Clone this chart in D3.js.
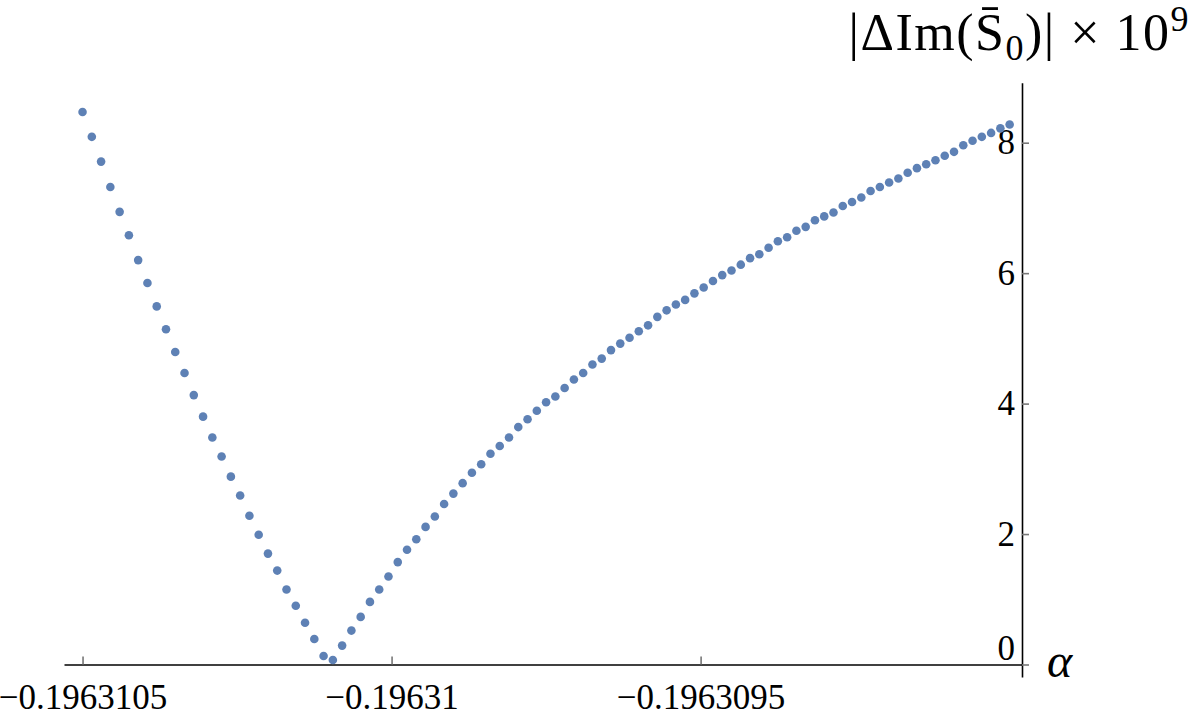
<!DOCTYPE html>
<html>
<head>
<meta charset="utf-8">
<script src="https://cdn.jsdelivr.net/npm/d3@7"></script>
<style>
  html, body { margin: 0; padding: 0; background: #fff; }
  svg { display: block; }
  text { font-family: "Liberation Serif", "DejaVu Serif", serif; fill: #000; }
</style>
</head>
<body>
<svg id="chart" width="1200" height="725"></svg>
<script>
// ---- data ----
const alphaValues = [
  -0.1963105, -0.196310485, -0.19631047, -0.196310455, -0.19631044, -0.196310425, -0.19631041, -0.196310395,
  -0.19631038, -0.196310365, -0.19631035, -0.196310335, -0.19631032, -0.196310305, -0.19631029, -0.196310275,
  -0.19631026, -0.196310245, -0.19631023, -0.196310215, -0.1963102, -0.196310185, -0.19631017, -0.196310155,
  -0.19631014, -0.196310125, -0.19631011, -0.196310095, -0.19631008, -0.196310065, -0.19631005, -0.196310035,
  -0.19631002, -0.196310005, -0.19630999, -0.196309975, -0.19630996, -0.196309945, -0.19630993, -0.196309915,
  -0.1963099, -0.196309885, -0.19630987, -0.196309855, -0.19630984, -0.196309825, -0.19630981, -0.196309795,
  -0.19630978, -0.196309765, -0.19630975, -0.196309735, -0.19630972, -0.196309705, -0.19630969, -0.196309675,
  -0.19630966, -0.196309645, -0.19630963, -0.196309615, -0.1963096, -0.196309585, -0.19630957, -0.196309555,
  -0.19630954, -0.196309525, -0.19630951, -0.196309495, -0.19630948, -0.196309465, -0.19630945, -0.196309435,
  -0.19630942, -0.196309405, -0.19630939, -0.196309375, -0.19630936, -0.196309345, -0.19630933, -0.196309315,
  -0.1963093, -0.196309285, -0.19630927, -0.196309255, -0.19630924, -0.196309225, -0.19630921, -0.196309195,
  -0.19630918, -0.196309165, -0.19630915, -0.196309135, -0.19630912, -0.196309105, -0.19630909, -0.196309075,
  -0.19630906, -0.196309045, -0.19630903, -0.196309015, -0.196309
];
const deltaImValues = [
  8.47, 8.09, 7.71, 7.32, 6.94, 6.58, 6.20, 5.85,
  5.49, 5.14, 4.79, 4.47, 4.13, 3.80, 3.48, 3.19,
  2.88, 2.59, 2.28, 1.99, 1.70, 1.44, 1.15, 0.90,
  0.64, 0.39, 0.13, 0.07, 0.29, 0.52, 0.73, 0.96,
  1.15, 1.35, 1.57, 1.76, 1.92, 2.11, 2.27, 2.46,
  2.62, 2.78, 2.94, 3.07, 3.23, 3.35, 3.48, 3.64,
  3.76, 3.89, 4.02, 4.11, 4.24, 4.37, 4.47, 4.60,
  4.69, 4.82, 4.92, 5.01, 5.11, 5.20, 5.33, 5.43,
  5.52, 5.59, 5.69, 5.78, 5.88, 5.97, 6.04, 6.13,
  6.23, 6.29, 6.39, 6.49, 6.55, 6.65, 6.71, 6.81,
  6.87, 6.93, 7.03, 7.09, 7.16, 7.26, 7.32, 7.39,
  7.45, 7.54, 7.61, 7.67, 7.73, 7.80, 7.86, 7.96,
  8.03, 8.09, 8.15, 8.22, 8.28
];
const xTickValues = [-0.1963105, -0.19631, -0.1963095];
const xTickLabels = ["\u22120.1963105", "\u22120.19631", "\u22120.1963095"];
const yTickValues = [0, 2, 4, 6, 8];
const yTickLabels = ["0", "2", "4", "6", "8"];
const xPlotRange = [-0.19631053, -0.19630898];
const yPlotRange = [-0.19, 8.92];

// ---- drawing ----
const svg = d3.select("#chart");
const x = d3.scaleLinear().domain(xPlotRange).range([64, 1022]);
const y = d3.scaleLinear().domain([0, 8]).range([664.5, 142.7]);

// x axis at y = 0
const xAxis = d3.axisBottom(x)
  .tickValues(xTickValues)
  .tickFormat((d, i) => xTickLabels[i])
  .tickSizeInner(-8)
  .tickSizeOuter(0)
  .tickPadding(20);
const gx = svg.append("g").attr("transform", `translate(0,${y(0)})`).call(xAxis);
gx.attr("font-family", null);
gx.select(".domain").attr("stroke", "#000").attr("stroke-width", 1.6);
gx.selectAll(".tick line").attr("stroke", "#777").attr("stroke-width", 1.6);
gx.selectAll(".tick text").attr("font-size", 35).attr("fill", "#000");

// y axis at the right end (alpha axis origin)
const yAxisX = x(xPlotRange[1]);
const yAxis = d3.axisLeft(y.copy().domain(yPlotRange).range([y(yPlotRange[0]), y(yPlotRange[1])]))
  .tickValues(yTickValues)
  .tickFormat((d, i) => yTickLabels[i])
  .tickSizeInner(-7)
  .tickSizeOuter(0)
  .tickPadding(7);
const gy = svg.append("g").attr("transform", `translate(${yAxisX},0)`).call(yAxis);
gy.attr("font-family", null);
gy.select(".domain").attr("stroke", "#000").attr("stroke-width", 1.6);
gy.selectAll(".tick line").attr("stroke", "#777").attr("stroke-width", 1.6);
gy.selectAll(".tick text").attr("font-size", 35).attr("fill", "#000");
gy.selectAll(".tick").filter(d => d === 0).select("text").attr("dy", "-0.15em");

// points
svg.append("g").selectAll("circle")
  .data(alphaValues.map((a, i) => [a, deltaImValues[i]]))
  .join("circle")
  .attr("cx", d => x(d[0]))
  .attr("cy", d => y(d[1]))
  .attr("r", 4.3)
  .attr("fill", "#5E81B5");

// axis labels
svg.append("text")
  .attr("x", 1047).attr("y", 677)
  .attr("font-size", 48).attr("font-style", "italic")
  .text("\u03B1");

const yl = svg.append("text")
  .attr("x", 1190).attr("y", 50)
  .attr("text-anchor", "end")
  .attr("font-size", 52)
  .attr("letter-spacing", 1.5);
yl.append("tspan").text("|\u0394Im(S\u0304");
yl.append("tspan").attr("font-size", 36).attr("dy", 10).text("0");
yl.append("tspan").attr("dy", -10).text(")| \u00D7 10");
yl.append("tspan").attr("font-size", 36).attr("dy", -19).text("9");
</script>
</body>
</html>
